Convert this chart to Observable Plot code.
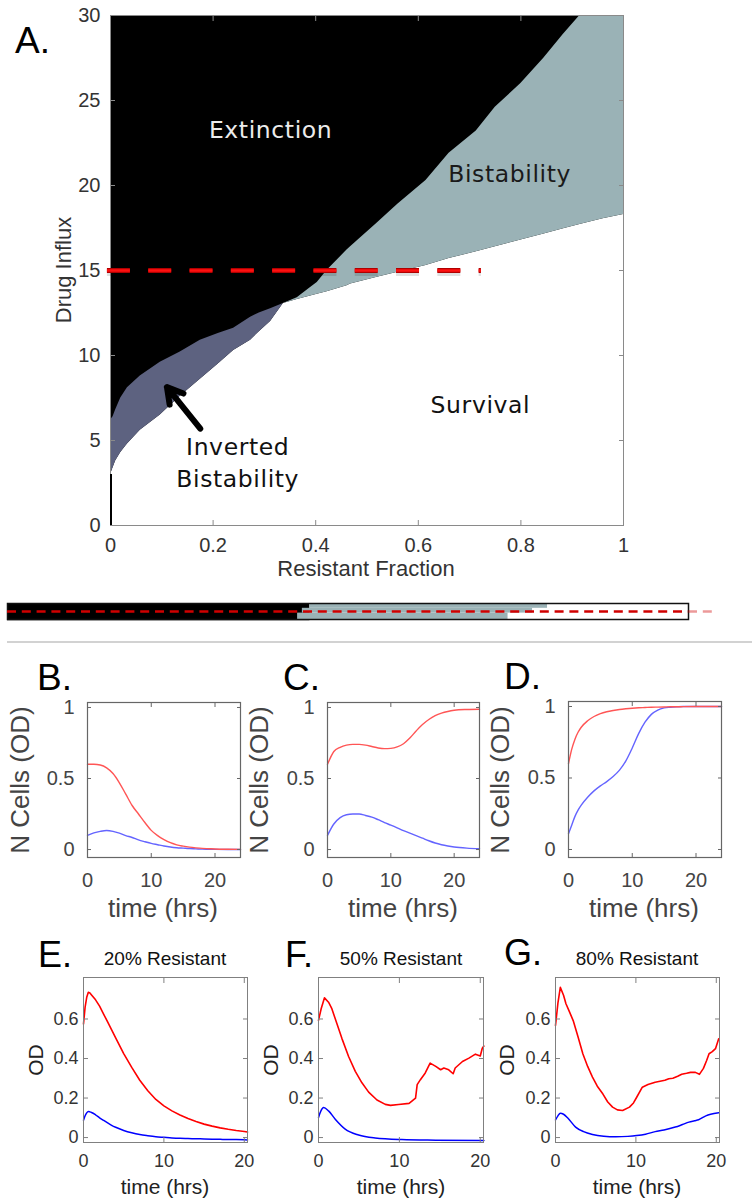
<!DOCTYPE html>
<html><head><meta charset="utf-8">
<script src="https://cdn.jsdelivr.net/npm/d3@7"></script>
<script src="https://cdn.jsdelivr.net/npm/@observablehq/plot@0.6"></script>
<style>
body{margin:0;background:#fff;}
#fig{position:relative;width:752px;height:1200px;overflow:hidden;font-family:"Liberation Sans",Arial,sans-serif;background:#fff;}
.region text{letter-spacing:0.6px;}
</style></head><body><div id="fig"></div>
<script>
// ---------- Panel A data (phase diagram) ----------
const fractionTicks = [0, 0.2, 0.4, 0.6, 0.8, 1];
const influxTicks = [0, 5, 10, 15, 20, 25, 30];
// inverted bistability region
const invX   = [0, 0.005, 0.01, 0.02, 0.033, 0.058, 0.097, 0.136, 0.175, 0.21, 0.24, 0.273, 0.29, 0.312, 0.337];
const invTop = [6.2, 6.4, 6.8, 7.5, 8.1, 8.8, 9.6, 10.2, 10.9, 11.3, 11.6, 12.25, 12.5, 12.75, 13.06];
const invBot = [3.0, 3.4, 3.8, 4.3, 4.8, 5.6, 6.5, 7.6, 8.6, 9.5, 10.3, 10.9, 11.4, 12.0, 13.06];
// bistability region
const bisX   = [0.337, 0.364, 0.39, 0.403, 0.422, 0.461, 0.468, 0.52, 0.56, 0.615, 0.66, 0.713, 0.75, 0.80, 0.845, 0.883, 0.915, 0.96, 1.0];
const bisTop = [13.06, 13.4, 14.0, 14.3, 15.0, 16.2, 16.4, 17.8, 18.9, 20.3, 21.9, 23.2, 24.6, 26.0, 27.5, 28.9, 30, 30, 30];
const bisBot = [13.06, 13.3, 13.5, 13.6, 13.75, 14.1, 14.2, 14.6, 14.9, 15.3, 15.7, 16.1, 16.4, 16.8, 17.15, 17.45, 17.7, 18.05, 18.3];
const regionNames = ["Extinction", "Bistability", "Survival", "Inverted\nBistability"];
const cutInflux = 15;
const cutRange = [-0.006, 0.723];

// ---------- Strip (slice at influx 15) ----------
const stripBlackEnd = 0.444;
const stripRowLo = [0, 0.4, 0.7];
const stripRowHi = [0.4, 0.7, 1];
const stripTealStart = [0.426, 0.433, 0.444];
const stripTealEnd = [0.735, 0.771, 0.793];
const stripCutEnd = 1.043;

// ---------- Panels B-D (model) ----------
const timeTicks = [0, 10, 20];
const odTicksBD = [0, 0.5, 1];
const bcT  = [0,1,2,3,4,5,6,7,8,9,10,11,12,13,14,15,16,17,18,19,20,22,24];
const bRed = [0.6,0.6,0.595,0.575,0.535,0.47,0.39,0.31,0.25,0.19,0.135,0.098,0.07,0.048,0.033,0.024,0.017,0.012,0.008,0.006,0.004,0.002,0.001];
const bBlue= [0.1,0.117,0.128,0.134,0.128,0.115,0.098,0.085,0.068,0.055,0.043,0.034,0.025,0.018,0.013,0.01,0.007,0.005,0.003,0.002,0.001,0,0];
const cRed = [0.6,0.69,0.72,0.735,0.74,0.74,0.735,0.725,0.715,0.71,0.712,0.722,0.745,0.785,0.835,0.88,0.915,0.942,0.96,0.972,0.98,0.986,0.988];
const cBlue= [0.1,0.18,0.225,0.245,0.25,0.25,0.24,0.228,0.21,0.19,0.172,0.153,0.133,0.115,0.098,0.08,0.062,0.046,0.034,0.025,0.018,0.01,0.006];
const dT   = [0,0.5,1,1.5,2,3,4,5,6,7,8,9,10,11,12,13,14,15,16,17,18,20,22,24];
const dRed = [0.6,0.7,0.77,0.82,0.855,0.9,0.93,0.95,0.963,0.972,0.979,0.984,0.988,0.991,0.993,0.995,0.996,0.997,0.998,0.998,0.999,1,1,1];
const dBlue= [0.11,0.17,0.23,0.275,0.31,0.365,0.41,0.445,0.475,0.51,0.555,0.62,0.71,0.81,0.89,0.945,0.975,0.99,0.995,0.998,1,1,1,1];

// ---------- Panels E-G (experiment) ----------
const odTicksEG = [0, 0.2, 0.4, 0.6];
const eT   = [0,0.2,0.4,0.6,0.8,1.0,1.5,2,2.5,3,3.5,4,5,6,7,8,9,10,11,12,13,14,15,16,17,18,19,20,20.4];
const eRed = [0.575,0.66,0.71,0.735,0.732,0.722,0.697,0.665,0.625,0.585,0.545,0.505,0.425,0.355,0.29,0.237,0.193,0.16,0.135,0.114,0.096,0.081,0.068,0.058,0.049,0.042,0.036,0.031,0.028];
const eBlue= [0.088,0.11,0.125,0.132,0.13,0.127,0.115,0.1,0.087,0.074,0.062,0.052,0.036,0.024,0.015,0.009,0.004,0.001,-0.002,-0.004,-0.005,-0.006,-0.007,-0.008,-0.009,-0.01,-0.01,-0.011,-0.012];
const fT   = [0,0.33,0.74,1.24,1.65,2.27,2.89,3.72,4.55,5.37,6.2,7.23,8.26,8.9,9.9,11.2,12.0,12.2,12.6,13.2,13.8,14.5,15.1,15.5,16.1,16.65,16.9,17.8,18.6,19.4,20.0,20.25,20.45];
const fRed = [0.593,0.652,0.707,0.685,0.652,0.577,0.502,0.41,0.335,0.277,0.23,0.19,0.168,0.163,0.167,0.173,0.2,0.268,0.293,0.327,0.377,0.36,0.343,0.352,0.343,0.323,0.352,0.385,0.402,0.422,0.413,0.452,0.463];
const fBT  = [0,0.3,0.62,1.24,2.07,3.3,4.96,7.0,10.3,14.5,20.45];
const fBlue= [0.102,0.135,0.152,0.135,0.093,0.043,0.013,-0.002,-0.01,-0.013,-0.015];
const gT   = [0,0.3,0.6,1.0,1.3,1.7,2.2,2.8,3.4,4.0,4.6,5.2,5.9,6.5,7.1,7.7,8.35,9.2,9.7,10.1,10.8,11.5,12.4,13.0,13.6,14.1,14.6,15.2,15.7,16.3,16.8,17.4,17.9,18.4,18.8,19.1,19.5,19.9,20.3];
const gRed = [0.567,0.68,0.76,0.72,0.677,0.64,0.592,0.51,0.424,0.36,0.306,0.26,0.22,0.18,0.154,0.14,0.137,0.154,0.175,0.204,0.255,0.268,0.28,0.285,0.29,0.298,0.30,0.31,0.32,0.325,0.33,0.33,0.32,0.35,0.39,0.424,0.435,0.45,0.5];
const gBT  = [0,0.3,0.6,1.0,1.5,2.5,3.5,4.6,6,7.5,9,10.1,11.2,12.4,13.5,14.9,15.8,16.6,17.3,17.8,18.7,19.3,20.3];
const gBlue= [0.089,0.11,0.123,0.118,0.1,0.053,0.03,0.016,0.007,0.004,0.006,0.01,0.017,0.03,0.038,0.053,0.066,0.078,0.085,0.09,0.11,0.118,0.125];
const egTitles = ["20% Resistant", "50% Resistant", "80% Resistant"];

// ---------- helpers ----------
const TEAL = "#9ab2b6", SLATE = "#5d6280";
const FONT = "'Liberation Sans', Arial, Helvetica, sans-serif";
const fig = document.getElementById("fig");
function put(node, left, top) {
  node.style.position = "absolute"; node.style.left = left + "px"; node.style.top = top + "px";
  fig.appendChild(node);
}
const zipT = (ts, vs) => ts.map((t, i) => ({t, v: vs[i]}));
function frameAxes(xTicks, yTicks, o) {
  const fmt = d => String(d);
  return [
    Plot.frame({stroke: o.frame, strokeWidth: o.frameWidth || 1}),
    Plot.axisX(xTicks, {anchor: "bottom", tickSize: -o.len, tickPadding: o.xPad, tickFormat: fmt, stroke: o.frame, fill: o.text, fontSize: o.size, label: null}),
    Plot.axisX(xTicks, {anchor: "top", tickSize: -o.len, tickFormat: () => "", stroke: o.frame, label: null}),
    Plot.axisY(yTicks, {anchor: "left", tickSize: -o.len, tickPadding: o.yPad, tickFormat: fmt, stroke: o.frame, fill: o.text, fontSize: o.size, label: null}),
    Plot.axisY(yTicks, {anchor: "right", tickSize: -o.len, tickFormat: () => "", stroke: o.frame, label: null})
  ];
}

// ---------- Panel A ----------
const survTable = invX.map((f, i) => ({f, v: invBot[i]}))
  .concat(bisX.slice(1).map((f, i) => ({f, v: bisBot[i + 1]})));
const invTable = invX.map((f, i) => ({f, lo: invBot[i], hi: invTop[i]}));
const bisTable = bisX.map((f, i) => ({f, lo: bisBot[i], hi: bisTop[i]}));
const labelPos = {Extinction: [0.312, 22.8], Bistability: [0.778, 20.18], Survival: [0.721, 6.59], Inverted: [0.248, 2.24]};
const arrowA = {tail: [0.175, 5.7], tip: [0.11, 8.14]};
const regionText = (name, pos, fill) => Plot.text([name], {x: pos[0], y: pos[1], text: d => d, fill,
  fontFamily: "'DejaVu Sans', sans-serif", fontSize: 23.5, lineAnchor: "bottom", textAnchor: "middle", lineHeight: 1.36, className: "region"});

const plotA = Plot.plot({
  width: 752, height: 590, marginLeft: 110, marginRight: 129, marginTop: 15, marginBottom: 65,
  x: {domain: [0, 1]}, y: {domain: [0, 30]},
  style: {fontFamily: FONT, fontSize: "20px", background: "transparent", overflow: "visible"},
  marks: [
    Plot.frame({fill: "black"}),
    Plot.areaY(survTable, {x: "f", y1: 0, y2: "v", fill: "white"}),
    Plot.areaY(invTable, {x: "f", y1: "lo", y2: "hi", fill: SLATE}),
    Plot.areaY(bisTable, {x: "f", y1: "lo", y2: "hi", fill: TEAL}),
    ...frameAxes(fractionTicks, influxTicks, {frame: "#8a8a8a", text: "#333", len: 5, xPad: 17, yPad: 15, size: 20}),
    Plot.ruleX([0], {y1: 0, y2: invBot[0], stroke: "black", strokeWidth: 2, dx: 0.5}),
    regionText(regionNames[0], labelPos.Extinction, "#ececec"),
    regionText(regionNames[1], labelPos.Bistability, "#1a1a1a"),
    regionText(regionNames[2], labelPos.Survival, "#111"),
    regionText(regionNames[3], labelPos.Inverted, "#111"),
    Plot.arrow([arrowA], {x1: d => d.tail[0], y1: d => d.tail[1], x2: d => d.tip[0], y2: d => d.tip[1], stroke: "black", strokeWidth: 6, headLength: 10}),
    Plot.ruleY([cutInflux], {x1: cutRange[0], x2: cutRange[1], dy: 3, stroke: "#000", strokeOpacity: 0.12, strokeWidth: 5, strokeDasharray: "23,18.3"}),
    Plot.ruleY([cutInflux], {x1: cutRange[0], x2: cutRange[1], stroke: "#b00000", strokeWidth: 5, strokeDasharray: "23,18.3"}),
    Plot.ruleY([cutInflux], {x1: cutRange[0], x2: cutRange[1], stroke: "#ff1010", strokeWidth: 2.6, strokeDasharray: "23,18.3"})
  ]
});
put(plotA, 0, 0);

// ---------- Strip ----------
const stripTable = stripRowLo.map((lo, i) => ({lo, hi: stripRowHi[i], a: stripTealStart[i], b: stripTealEnd[i]}));
const strip = Plot.plot({
  width: 752, height: 40, marginLeft: 7, marginRight: 64, marginTop: 13, marginBottom: 11,
  x: {domain: [0, 1], axis: null}, y: {domain: [0, 1], axis: null},
  style: {background: "transparent", overflow: "visible"},
  marks: [
    Plot.rect([stripBlackEnd], {x1: 0, x2: d => d, y1: 0, y2: 1, fill: "black"}),
    Plot.rect(stripTable, {x1: "a", x2: "b", y1: "lo", y2: "hi", fill: TEAL}),
    Plot.frame({stroke: "#111", strokeWidth: 1.5}),
    Plot.ruleY([0], {x1: 0, x2: stripBlackEnd, stroke: "#999", dy: 1}),
    Plot.ruleY([0.5], {x1: 0, x2: 1, stroke: "#d00000", strokeWidth: 2.6, strokeDasharray: "9,5.8"}),
    Plot.ruleY([0.5], {x1: 1, x2: stripCutEnd, stroke: "#d00000", strokeOpacity: 0.4, strokeWidth: 2.6, strokeDasharray: "9,5.8"})
  ]
});
put(strip, 0, 590);

// separator
const sep = document.createElement("div");
sep.style.cssText = "width:745px;height:2px;background:#d2d2d2;";
put(sep, 7, 641);

// ---------- Small panels ----------
function smallPanel(cfg) {
  const {fl, fr, ft, fb, xDomain, yDomain, xTicks, yTicks, lines, tick} = cfg;
  const mL = 75, mR = 15, mT = 10, mB = 45;
  const svg = Plot.plot({
    width: fr - fl + mL + mR, height: fb - ft + mT + mB,
    marginLeft: mL, marginRight: mR, marginTop: mT, marginBottom: mB,
    x: {domain: xDomain}, y: {domain: yDomain},
    style: {fontFamily: FONT, fontSize: tick.size + "px", background: "transparent", overflow: "visible"},
    marks: [
      ...lines.map(l => Plot.line(l.data, {x: "t", y: "v", stroke: l.color, strokeWidth: l.width, curve: l.curve || "monotone-x"})),
      ...frameAxes(xTicks, yTicks, tick)
    ]
  });
  put(svg, fl - mL, ft - mT);
}
const tickBD = {frame: "#666", text: "#444", len: 4, xPad: 19, yPad: 17, size: 20, frameWidth: 1.2};
const tickEG = {frame: "#808080", text: "#333", len: 5, xPad: 17, yPad: 10, size: 18};
const RED_M = "#ff5555", BLUE_M = "#6464ff";
const bd = [
  {fl: 87, fr: 240, ft: 702, red: bRed, blue: bBlue, t: bcT},
  {fl: 327, fr: 479, ft: 702, red: cRed, blue: cBlue, t: bcT},
  {fl: 568, fr: 721, ft: 701, red: dRed, blue: dBlue, t: dT}
];
bd.forEach(p => smallPanel({
  fl: p.fl, fr: p.fr, ft: p.ft, fb: 857, xDomain: [0, 24], yDomain: [-0.056, 1.035],
  xTicks: timeTicks, yTicks: odTicksBD, tick: tickBD,
  lines: [
    {data: zipT(p.t, p.blue), color: BLUE_M, width: 1.4},
    {data: zipT(p.t, p.red), color: RED_M, width: 1.4}
  ]
}));
const eg = [
  {fl: 83, fr: 247, red: zipT(eT, eRed), blue: zipT(eT, eBlue)},
  {fl: 318, fr: 483, red: zipT(fT, fRed), blue: zipT(fBT, fBlue)},
  {fl: 555, fr: 719, red: zipT(gT, gRed), blue: zipT(gBT, gBlue)}
];
eg.forEach(p => smallPanel({
  fl: p.fl, fr: p.fr, ft: 977, fb: 1142, xDomain: [0, 20.4], yDomain: [-0.025, 0.81],
  xTicks: timeTicks, yTicks: odTicksEG, tick: tickEG,
  lines: [
    {data: p.blue, color: "#0000ff", width: 1.5},
    {data: p.red, color: "#ff0000", width: 1.6, curve: "linear"}
  ]
}));

// ---------- Text overlay ----------
const texts = [
  {t: "A.", x: 15, y: 53, size: 37},
  {t: "Drug Influx", x: 71, y: 270, size: 22, rot: true, mid: true, fill: "#333"},
  {t: "Resistant Fraction", x: 366, y: 576, size: 22, mid: true, fill: "#333"},
  {t: "B.", x: 37, y: 690, size: 37}, {t: "C.", x: 283, y: 690, size: 37}, {t: "D.", x: 504, y: 689, size: 37},
  {t: "E.", x: 38, y: 967, size: 36}, {t: "F.", x: 285, y: 967, size: 36}, {t: "G.", x: 504, y: 965, size: 36}
];
[[29, 163], [268, 403], [509, 644]].forEach(([lx, cx]) => {
  texts.push({t: "N Cells (OD)", x: lx, y: 780, size: 26, rot: true, mid: true, fill: "#444"});
  texts.push({t: "time (hrs)", x: cx, y: 917, size: 26, mid: true, fill: "#444"});
});
[[43, 165], [278, 401], [514, 637]].forEach(([lx, cx], i) => {
  texts.push({t: "OD", x: lx, y: 1060, size: 21, rot: true, mid: true, fill: "#222"});
  texts.push({t: "time (hrs)", x: cx, y: 1194, size: 21, mid: true, fill: "#222"});
  texts.push({t: egTitles[i], x: cx, y: 965, size: 19, mid: true, fill: "#111"});
});
const ov = d3.create("svg").attr("width", 752).attr("height", 1200)
  .style("pointer-events", "none").style("font-family", FONT);
ov.selectAll("text").data(texts).join("text")
  .attr("transform", d => `translate(${d.x},${d.y})` + (d.rot ? " rotate(-90)" : ""))
  .attr("text-anchor", d => d.mid ? "middle" : "start")
  .attr("font-size", d => d.size)
  .attr("font-weight", 400)
  .attr("fill", d => d.fill || "#000")
  .text(d => d.t);
put(ov.node(), 0, 0);
</script></body></html>
